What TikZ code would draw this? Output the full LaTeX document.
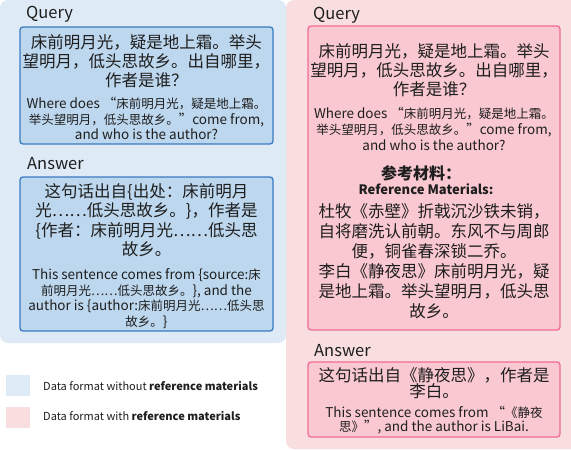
\documentclass[tikz,border=0pt]{standalone}
\usepackage{fontspec}
\setmainfont{Noto Sans CJK SC}
\definecolor{bluebg}{HTML}{DEEAF6}
\definecolor{bluebox}{HTML}{BDD7EE}
\definecolor{blueline}{HTML}{3A7CC0}
\definecolor{pinkbg}{HTML}{F9DEDF}
\definecolor{pinkbox}{HTML}{F9C8D1}
\definecolor{pinkline}{HTML}{F06B95}
\definecolor{txt}{HTML}{1E1E1E}
\newcommand{\zhbig}{\fontsize{16.5}{19}\selectfont}
\newcommand{\ensm}{\fontsize{13.5}{15.5}\selectfont}
\newcommand{\zhsm}{\fontsize{12.5}{15.5}\selectfont}
\tikzset{
  panel/.style={rounded corners=8pt},
  bbox/.style={draw=blueline, fill=bluebox, line width=1.3pt, rounded corners=3pt},
  pbox/.style={draw=pinkline, fill=pinkbox, line width=1.3pt, rounded corners=3pt},
  para/.style={align=center, inner sep=0pt, anchor=base, text=txt},
  head/.style={inner sep=0pt, anchor=west, font=\fontsize{16.5}{18}\selectfont, text=txt},
  legtxt/.style={inner sep=0pt, anchor=west, font=\fontsize{11}{12}\selectfont, text=txt}
}
\begin{document}
\begin{tikzpicture}[x=1pt,y=-1pt]
\useasboundingbox (0,0) rectangle (571,450);
\fill[white] (0,0) rectangle (571,450);
\begin{scope}
\clip (0,0) rectangle (571,450);
\fill[pinkbg, panel] (286,0) rectangle (580,449);
\end{scope}
\fill[bluebg, panel] (0,0) rectangle (286,343);

% ---------- left: without reference ----------
\node[head] (lq) at (26,14) {Query};
\draw[bbox] (20,27) rectangle (273,144);
\node[para, font=\zhbig] (lqzh) at (146.5,86) {床前明月光，疑是地上霜。举头\\望明月，低头思故乡。出自哪里，\\作者是谁？};
\node[para, font=\ensm] (lqen) at (146.5,139.5) {Where does “{\zhsm 床前明月光，疑是地上霜。}\\{\zhsm 举头望明月，低头思故乡。}”come from,\\and who is the author?};

\node[head] (la) at (27,164) {Answer};
\draw[bbox] (20,177) rectangle (273,331);
\node[para, font=\fontsize{16.5}{19.5}\selectfont] (lazh) at (146.5,255.5) {这句话出自\{出处：床前明月\\光……低头思故乡。\}，作者是\\\{作者：床前明月光……低头思\\故乡。};
\node[para, font=\ensm] (laen) at (146.5,326) {This sentence comes from \{source:{\zhsm 床}\\{\zhsm 前明月光……低头思故乡。}\}, and the\\author is \{author:{\zhsm 床前明月光……低头思}\\{\zhsm 故乡。}\}};

% ---------- legend ----------
\fill[bluebg] (6,375) rectangle (30,396);
\node[legtxt] (leg1) at (43,386) {Data format without \textbf{reference materials}};
\fill[pinkbg] (6,407) rectangle (30,428);
\node[legtxt] (leg2) at (43,416) {Data format with \textbf{reference materials}};

% ---------- right: with reference ----------
\node[head] (rq) at (313,15) {Query};
\draw[pbox] (308,26) rectangle (560,330);
\node[para, font=\zhbig] (rqzh) at (434,95) {床前明月光，疑是地上霜。举头\\望明月，低头思故乡。出自哪里，\\作者是谁？};
\node[para, font=\fontsize{13.5}{16}\selectfont] (rqen) at (434,150.5) {Where does “{\zhsm 床前明月光，疑是地上霜。}\\{\zhsm 举头望明月，低头思故乡。}”come from,\\and who is the author?};
\node[para, font=\fontsize{16}{18}\selectfont\bfseries] (rref) at (421,179) {参考材料：};
\node[para, font=\fontsize{13}{15}\selectfont\bfseries] (rrefen) at (426,194.5) {Reference Materials:};
\node[para, font=\fontsize{16.5}{20}\selectfont] (rrefzh) at (434,317) {杜牧《赤壁》折戟沉沙铁未销，\\自将磨洗认前朝。东风不与周郎\\便，铜雀春深锁二乔。\\李白《静夜思》床前明月光，疑\\是地上霜。举头望明月，低头思\\故乡。};

\node[head] (ra) at (314,351) {Answer};
\draw[pbox] (308,362) rectangle (560,437);
\node[para, font=\fontsize{16.5}{16.5}\selectfont] (razh) at (434,397.5) {这句话出自《静夜思》，作者是\\李白。};
\node[para, font=\fontsize{13.5}{14}\selectfont] (raen) at (434,431.5) {This sentence comes from “{\zhsm 《静夜}\\{\zhsm 思》}”, and the author is LiBai.};
\end{tikzpicture}
\end{document}
